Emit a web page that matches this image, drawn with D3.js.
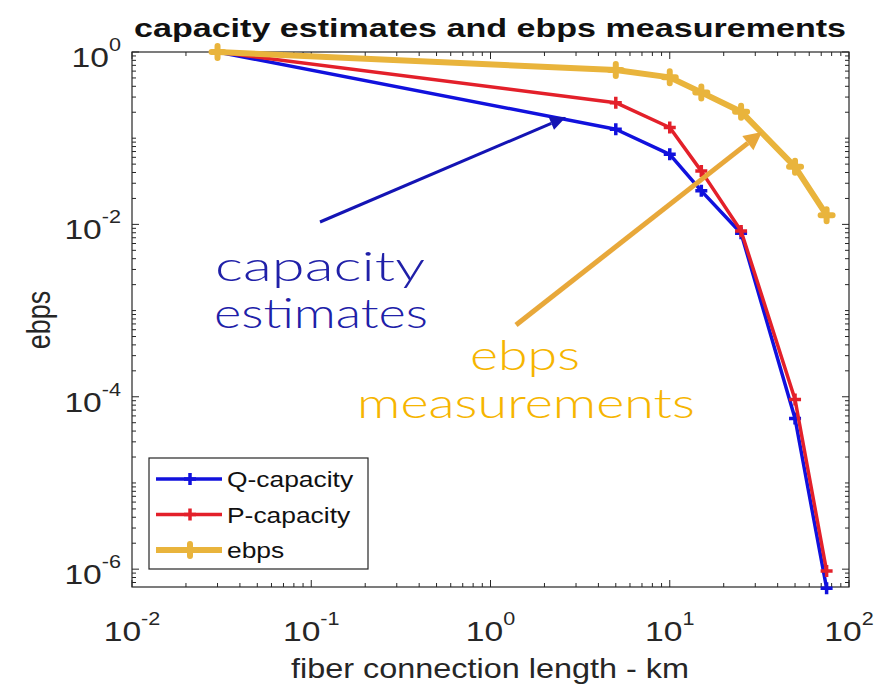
<!DOCTYPE html>
<html><head><meta charset="utf-8">
<script src="https://cdn.jsdelivr.net/npm/d3@7"></script>
<style>body{margin:0;background:#fff}svg{display:block}</style>
</head><body>
<svg id="c" width="877" height="691"></svg>
<script>
// ---- data ----
const distances = [0.03, 5, 10, 15, 25, 50, 75];           // km
const qCapacity = [1, 0.127, 0.065, 0.0245, 0.0079, 5.6e-5, 6.0e-7];
const pCapacity = [1, 0.258, 0.133, 0.0415, 0.0084, 9.3e-5, 9.5e-7];
const ebpsMeas  = [1, 0.618, 0.508, 0.34, 0.203, 0.0466, 0.0128];
const seriesNames = ["Q-capacity", "P-capacity", "ebps"];
const xTickExps = [-2, -1, 0, 1, 2];
const yTickExps = [-6, -4, -2, 0];
const titleText = "capacity estimates and ebps measurements";
const xLabel = "fiber connection length - km";
const yLabel = "ebps";

// ---- layout ----
const L = 132, R = 849, T = 52, B = 587;
const svg = d3.select("#c");
const x = d3.scaleLog().domain([1e-2, 1e2]).range([L, R]);
const y = d3.scaleLog().domain([Math.pow(10, -6.207), 1]).range([B, T]);
const axisCol = "#262626";
const SX = 1.2; // horizontal stretch of text
const font = "'Liberation Sans', Arial, sans-serif";

// axes box
svg.append("rect").attr("x", L).attr("y", T).attr("width", R - L).attr("height", B - T)
  .attr("fill", "#fff").attr("stroke", axisCol).attr("stroke-width", 1.2);

// ticks
const g = svg.append("g").attr("stroke", axisCol).attr("stroke-width", 1);
function logTicks(lo, hi) {
  const out = [];
  for (let e = lo; e < hi; e++) for (let m = 1; m < 10; m++) out.push({v: m * Math.pow(10, e), major: m === 1, e});
  out.push({v: Math.pow(10, hi), major: true, e: hi});
  return out;
}
logTicks(-2, 2).forEach(t => {
  const px = x(t.v), len = t.major ? 7 : 4;
  g.append("line").attr("x1", px).attr("x2", px).attr("y1", B).attr("y2", B - len);
  g.append("line").attr("x1", px).attr("x2", px).attr("y1", T).attr("y2", T + len);
});
logTicks(-7, 0).filter(t => t.v >= y.domain()[0] * 0.999).forEach(t => {
  const py = y(t.v), len = (t.major && t.e % 2 === 0) ? 7 : 4;
  g.append("line").attr("y1", py).attr("y2", py).attr("x1", L).attr("x2", L + len);
  g.append("line").attr("y1", py).attr("y2", py).attr("x1", R).attr("x2", R - len);
});

// tick labels
xTickExps.forEach(e => {
  const t = svg.append("text").attr("transform", `translate(${x(Math.pow(10, e))},641) scale(${SX},1)`)
    .attr("text-anchor", "middle").attr("font-family", font).attr("font-size", 28).attr("fill", axisCol);
  t.append("tspan").text("10");
  t.append("tspan").attr("dy", -16).attr("font-size", 18).text(e < 0 ? "-" + (-e) : String(e));
});
yTickExps.forEach(e => {
  const t = svg.append("text").attr("transform", `translate(121,${y(Math.pow(10, e)) + 15}) scale(${SX},1)`)
    .attr("text-anchor", "end").attr("font-family", font).attr("font-size", 28).attr("fill", axisCol);
  t.append("tspan").text("10");
  t.append("tspan").attr("dy", -16).attr("font-size", 18).text(e < 0 ? "-" + (-e) : String(e));
});

// title & labels
svg.append("text").attr("x", 490).attr("y", 37).attr("text-anchor", "middle")
  .attr("font-family", font).attr("font-weight", "bold").attr("font-size", 26)
  .attr("textLength", 712).attr("lengthAdjust", "spacingAndGlyphs").attr("fill", "#111").text(titleText);
svg.append("text").attr("transform", `translate(490,678) scale(${SX},1)`).attr("text-anchor", "middle")
  .attr("font-family", font).attr("font-size", 27).attr("fill", axisCol).text(xLabel);
svg.append("text").attr("transform", `translate(50,320) scale(${SX},1) rotate(-90)`).attr("text-anchor", "middle")
  .attr("font-family", font).attr("font-size", 27).attr("fill", axisCol).text(yLabel);

// series
const colors = ["#1111dd", "#e3202a", "#e9b43c"];
const widths = [3.5, 3.5, 6];
const mSize = [6, 6, 6], mWidth = [3.5, 3.5, 6];
const allSeries = [qCapacity, pCapacity, ebpsMeas];
const line = d3.line().x(d => x(d[0])).y(d => y(d[1]));
allSeries.forEach((vals, i) => {
  const pts = distances.map((d, k) => [d, vals[k]]);
  const sg = svg.append("g");
  sg.append("path").datum(pts).attr("d", line).attr("fill", "none")
    .attr("stroke", colors[i]).attr("stroke-width", widths[i]).attr("stroke-linejoin", "round");
  sg.selectAll("path.m").data(pts).enter().append("path").attr("class", "m")
    .attr("d", d => { const px = x(d[0]), py = y(d[1]), s = mSize[i];
      return `M${px - s},${py}H${px + s}M${px},${py - s}V${py + s}`; })
    .attr("stroke", colors[i]).attr("stroke-width", mWidth[i]).attr("stroke-linecap", i === 2 ? "round" : "butt");
});

// legend
const lg = svg.append("g");
lg.append("rect").attr("x", 149).attr("y", 458).attr("width", 219).attr("height", 111)
  .attr("fill", "#fff").attr("stroke", axisCol).attr("stroke-width", 1.2);
seriesNames.forEach((n, i) => {
  const ry = 479 + i * 35.5;
  lg.append("line").attr("x1", 156).attr("x2", 222).attr("y1", ry).attr("y2", ry)
    .attr("stroke", colors[i]).attr("stroke-width", widths[i]);
  lg.append("path").attr("d", `M${190 - mSize[i]},${ry}H${190 + mSize[i]}M190,${ry - mSize[i]}V${ry + mSize[i]}`)
    .attr("stroke", colors[i]).attr("stroke-width", mWidth[i]).attr("stroke-linecap", i === 2 ? "round" : "butt");
  lg.append("text").attr("transform", `translate(227,${ry + 8}) scale(${SX},1)`)
    .attr("font-family", font).attr("font-size", 22).attr("fill", "#111").text(n);
});

// annotations
function arrow(x1, y1, x2, y2, col, w, hl, hw) {
  const a = Math.atan2(y2 - y1, x2 - x1);
  const bx = x2 - hl * Math.cos(a), by = y2 - hl * Math.sin(a);
  svg.append("line").attr("x1", x1).attr("y1", y1).attr("x2", bx).attr("y2", by)
    .attr("stroke", col).attr("stroke-width", w);
  const px = -Math.sin(a), py = Math.cos(a);
  svg.append("path").attr("d", `M${x2},${y2}L${bx + px * hw},${by + py * hw}L${bx - px * hw},${by - py * hw}Z`)
    .attr("fill", col);
}
arrow(320, 222, 566, 117, "#1414b4", 3, 16, 7);
arrow(516, 325, 762, 132, "#e8a83a", 5, 18, 9);
const aFont = "'Century Gothic', Lato, 'Open Sans', sans-serif";
function ann(txt, cx, by, w, col) {
  svg.append("text").attr("x", cx).attr("y", by).attr("text-anchor", "middle")
    .attr("font-family", aFont).attr("font-weight", 300).attr("font-size", 42)
    .attr("textLength", w).attr("lengthAdjust", "spacingAndGlyphs").attr("fill", col).text(txt);
}
ann("capacity", 320, 281, 210, "#2020a8");
ann("estimates", 321, 328, 214, "#2020a8");
ann("ebps", 525, 370, 110, "#f6b500");
ann("measurements", 526, 418, 338, "#f6b500");
</script>
</body></html>
